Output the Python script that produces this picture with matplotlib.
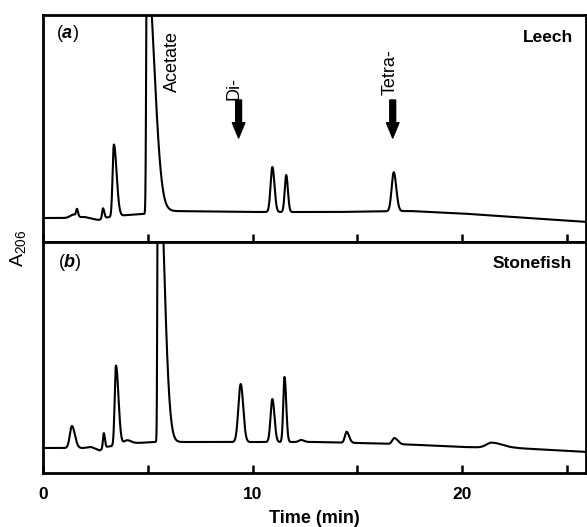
import numpy as np
import matplotlib
matplotlib.use("Agg")
import matplotlib.pyplot as plt

plt.rcParams['font.family'] = ['Liberation Sans', 'DejaVu Sans']
plt.rcParams['mathtext.fontset'] = 'custom'
plt.rcParams['mathtext.rm'] = 'Liberation Sans'
plt.rcParams['mathtext.it'] = 'Liberation Sans:italic:bold'
plt.rcParams['mathtext.bf'] = 'Liberation Sans:bold'

# ---------------- data (time in min, signal in arbitrary A206 units) -------------
# Leech (a): baseline anchor points
leech_base_t = [0, 1.0, 2.0, 2.4, 2.65, 2.9, 3.2, 4.0, 4.8, 6.0, 10.0, 14.0, 17.5, 20.0, 22.4, 26.0]
leech_base_h = [24, 24, 25, 23, 22, 24, 25, 27, 28, 31, 30, 30, 31, 28.5, 25, 20]
# Leech peaks: retention time, height, left width, right width
leech_pk_t = [1.45, 1.62, 2.86, 3.38, 4.95, 10.94, 11.60, 16.73]
leech_pk_h = [3, 7, 10, 72, 250, 45, 37, 39]
leech_pk_sl = [0.15, 0.04, 0.04, 0.06, 0.03, 0.085, 0.07, 0.10]
leech_pk_sr = [0.15, 0.05, 0.06, 0.13, 0.35, 0.10, 0.08, 0.12]

# Stonefish (b)
fish_base_t = [0, 1.0, 1.9, 2.3, 2.7, 3.0, 3.3, 4.5, 5.3, 7.0, 9.0, 13.0, 16.0, 18.0, 20.0, 21.0, 22.5, 26.0]
fish_base_h = [25, 25, 25, 26, 22.5, 26, 27, 30, 31, 31, 31, 31, 29.5, 28, 26, 25.5, 25, 21]
fish_pk_t = [1.38, 2.90, 3.48, 4.00, 5.48, 9.43, 10.94, 11.52, 12.30, 14.48, 16.76, 21.40]
fish_pk_h = [22, 15, 80, 4, 320, 58, 43, 65, 2, 11, 6, 5]
fish_pk_sl = [0.10, 0.04, 0.06, 0.15, 0.025, 0.11, 0.085, 0.06, 0.10, 0.08, 0.10, 0.25]
fish_pk_sr = [0.14, 0.05, 0.12, 0.20, 0.275, 0.12, 0.10, 0.08, 0.15, 0.12, 0.16, 0.50]

marker_times = [9.33, 16.68]          # Di-, Tetra- standards
marker_labels = ['Di-', 'Tetra-']
x_ticks = [0, 5, 10, 15, 20, 25]
x_tick_labels = ['0', '', '10', '', '20', '']


def trace(t, bt, bh, pt, ph, psl, psr):
    y = np.interp(t, bt, bh)
    for t0, h, sl, sr in zip(pt, ph, psl, psr):
        d = t - t0
        s = np.where(d < 0, sl, sr)
        y = y + h * np.exp(-0.5 * (d / s) ** 2)
    return y


t = np.linspace(0, 26, 5201)
y_leech = trace(t, leech_base_t, leech_base_h, leech_pk_t, leech_pk_h,
                leech_pk_sl, leech_pk_sr)
y_fish = trace(t, fish_base_t, fish_base_h, fish_pk_t, fish_pk_h,
               fish_pk_sl, fish_pk_sr)

W, H = 587, 527
fig = plt.figure(figsize=(W / 100, H / 100), dpi=100)
left = 43 / W
right = 586 / W
ax1 = fig.add_axes([left, 1 - 242 / H, right - left, 227 / H])
ax2 = fig.add_axes([left, 1 - 473 / H, right - left, 231 / H])

for ax, y in ((ax1, y_leech), (ax2, y_fish)):
    ax.plot(t, y, color='black', lw=1.5, solid_joinstyle='round')
    ax.set_xlim(0, 25.9)
    ax.set_yticks([])
    for s in ax.spines.values():
        s.set_linewidth(2.0)
    ax.set_xticks(x_ticks)
    ax.tick_params(axis='x', direction='in', length=6, width=1.8,
                   bottom=True, top=False)

ax1.set_ylim(0, 227)
ax2.set_ylim(0, 231)
ax1.tick_params(axis='x', labelbottom=False)
ax2.set_xticklabels(x_tick_labels, fontsize=12.5, fontweight='bold')
ax2.tick_params(axis='x', pad=10)
ax2.set_xlabel('Time (min)', fontsize=13, fontweight='bold', labelpad=6)

# panel labels
ax1.text(1.19, 208, r'($a$)', fontsize=13, ha='center', va='center')
ax2.text(1.29, 210, r'($b$)', fontsize=13, ha='center', va='center')
ax1.text(25.29, 204.5, 'Leech', fontsize=12.5, fontweight='bold', ha='right', va='center')
ax2.text(25.24, 209, 'Stonefish', fontsize=12.5, fontweight='bold', ha='right', va='center')

# annotations
ax1.text(6.19, 181, 'Acetate', rotation=90, fontsize=13, ha='center', va='center')
ax1.text(9.13, 154, marker_labels[0], rotation=90, fontsize=13, ha='center', va='center')
ax1.text(16.57, 169.5, marker_labels[1], rotation=90, fontsize=13, ha='center', va='center')
for mt in marker_times:
    ax1.annotate('', xy=(mt, 104), xytext=(mt, 142),
                 arrowprops=dict(arrowstyle='simple,head_width=0.9,head_length=1.1,tail_width=0.42',
                                 color='black', shrinkA=0, shrinkB=0, mutation_scale=10))

fig.text(18 / W, 1 - 248 / H, r'A$_{\mathregular{206}}$', rotation=90,
         fontsize=14, ha='center', va='center')

fig.savefig('out.png', dpi=100)
